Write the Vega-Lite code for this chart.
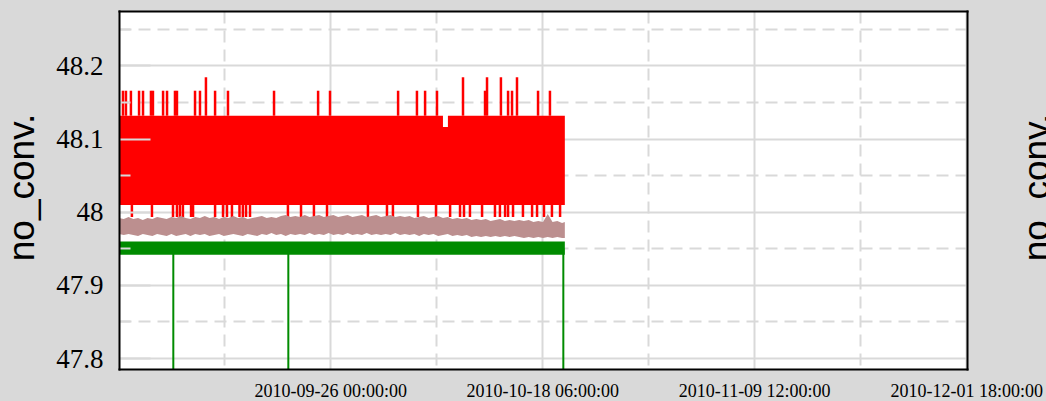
{
  "$schema": "https://vega.github.io/schema/vega-lite/v6.json",
  "autosize": {"type": "none"},
  "width": 848,
  "height": 358,
  "padding": {"left": 119, "top": 11, "right": 79, "bottom": 32},
  "background": "#d9d9d9",
  "config": {"view": {"fill": "white", "stroke": null}},
  "datasets": {
    "band": [
      {"t": "2010-09-03T20:00", "lo": 48.0092, "hi": 48.1313},
      {"t": "2010-10-07T20:00", "lo": 48.0092, "hi": 48.1159},
      {"t": "2010-10-08T08:30", "lo": 48.0092, "hi": 48.1313},
      {"t": "2010-10-20T15:00", "lo": 48.0092, "hi": 48.1313}
    ],
    "spikes": [
      {"t": "2010-09-04T06:00", "lo": 48.1313, "hi": 48.1655},
      {"t": "2010-09-04T13:30", "lo": 48.1313, "hi": 48.1655},
      {"t": "2010-09-05T02:00", "lo": 48.1313, "hi": 48.1655},
      {"t": "2010-09-05T22:30", "lo": 48.1313, "hi": 48.1655},
      {"t": "2010-09-06T08:30", "lo": 48.1313, "hi": 48.1655},
      {"t": "2010-09-07T04:30", "lo": 48.1313, "hi": 48.1655},
      {"t": "2010-09-07T09:30", "lo": 48.1313, "hi": 48.1655},
      {"t": "2010-09-08T11:00", "lo": 48.1313, "hi": 48.1655},
      {"t": "2010-09-08T21:00", "lo": 48.1313, "hi": 48.1655},
      {"t": "2010-09-09T17:00", "lo": 48.1313, "hi": 48.1655},
      {"t": "2010-09-09T22:00", "lo": 48.1313, "hi": 48.1655},
      {"t": "2010-09-11T19:30", "lo": 48.1313, "hi": 48.1655},
      {"t": "2010-09-12T08:00", "lo": 48.1313, "hi": 48.1655},
      {"t": "2010-09-12T23:00", "lo": 48.1313, "hi": 48.1839},
      {"t": "2010-09-13T22:00", "lo": 48.1313, "hi": 48.1655},
      {"t": "2010-09-15T06:30", "lo": 48.1313, "hi": 48.1655},
      {"t": "2010-09-20T02:30", "lo": 48.1313, "hi": 48.1655},
      {"t": "2010-09-24T17:30", "lo": 48.1313, "hi": 48.1655},
      {"t": "2010-09-25T23:30", "lo": 48.1313, "hi": 48.1655},
      {"t": "2010-10-03T03:00", "lo": 48.1313, "hi": 48.1655},
      {"t": "2010-10-05T02:30", "lo": 48.1313, "hi": 48.1655},
      {"t": "2010-10-05T23:00", "lo": 48.1313, "hi": 48.1655},
      {"t": "2010-10-07T05:00", "lo": 48.1313, "hi": 48.1655},
      {"t": "2010-10-09T22:30", "lo": 48.1313, "hi": 48.1839},
      {"t": "2010-10-12T06:00", "lo": 48.1313, "hi": 48.1655},
      {"t": "2010-10-12T11:00", "lo": 48.1313, "hi": 48.1839},
      {"t": "2010-10-13T22:00", "lo": 48.1313, "hi": 48.1839},
      {"t": "2010-10-14T16:00", "lo": 48.1313, "hi": 48.1655},
      {"t": "2010-10-15T02:00", "lo": 48.1313, "hi": 48.1655},
      {"t": "2010-10-15T14:30", "lo": 48.1313, "hi": 48.1839},
      {"t": "2010-10-17T19:30", "lo": 48.1313, "hi": 48.1655},
      {"t": "2010-10-19T01:30", "lo": 48.1313, "hi": 48.1655},
      {"t": "2010-09-05T04:30", "lo": 47.9928, "hi": 48.0092},
      {"t": "2010-09-07T07:00", "lo": 47.9928, "hi": 48.0092},
      {"t": "2010-09-09T12:00", "lo": 47.9928, "hi": 48.0092},
      {"t": "2010-09-09T22:00", "lo": 47.9928, "hi": 48.0092},
      {"t": "2010-09-10T05:30", "lo": 47.9928, "hi": 48.0092},
      {"t": "2010-09-10T13:00", "lo": 47.9928, "hi": 48.0092},
      {"t": "2010-09-11T09:30", "lo": 47.9928, "hi": 48.0092},
      {"t": "2010-09-11T14:30", "lo": 47.9928, "hi": 48.0092},
      {"t": "2010-09-13T22:00", "lo": 47.9928, "hi": 48.0092},
      {"t": "2010-09-14T18:00", "lo": 47.9928, "hi": 48.0092},
      {"t": "2010-09-15T04:00", "lo": 47.9928, "hi": 48.0092},
      {"t": "2010-09-15T16:30", "lo": 47.9928, "hi": 48.0092},
      {"t": "2010-09-16T11:30", "lo": 47.9928, "hi": 48.0092},
      {"t": "2010-09-16T20:00", "lo": 47.9928, "hi": 48.0092},
      {"t": "2010-09-17T04:00", "lo": 47.9928, "hi": 48.0092},
      {"t": "2010-09-17T14:00", "lo": 47.9928, "hi": 48.0092},
      {"t": "2010-09-21T13:30", "lo": 47.9928, "hi": 48.0092},
      {"t": "2010-09-22T22:30", "lo": 47.9928, "hi": 48.0092},
      {"t": "2010-09-24T07:00", "lo": 47.9928, "hi": 48.0092},
      {"t": "2010-09-25T16:00", "lo": 47.9928, "hi": 48.0092},
      {"t": "2010-09-29T23:00", "lo": 47.9928, "hi": 48.0092},
      {"t": "2010-10-01T23:00", "lo": 47.9928, "hi": 48.0092},
      {"t": "2010-10-02T14:00", "lo": 47.9928, "hi": 48.0092},
      {"t": "2010-10-05T05:00", "lo": 47.9928, "hi": 48.0092},
      {"t": "2010-10-07T02:30", "lo": 47.9928, "hi": 48.0092},
      {"t": "2010-10-08T14:00", "lo": 47.9928, "hi": 48.0092},
      {"t": "2010-10-09T15:00", "lo": 47.9928, "hi": 48.0092},
      {"t": "2010-10-10T01:00", "lo": 47.9928, "hi": 48.0092},
      {"t": "2010-10-10T16:00", "lo": 47.9928, "hi": 48.0092},
      {"t": "2010-10-11T22:30", "lo": 47.9928, "hi": 48.0092},
      {"t": "2010-10-13T07:00", "lo": 47.9928, "hi": 48.0092},
      {"t": "2010-10-13T19:30", "lo": 47.9928, "hi": 48.0092},
      {"t": "2010-10-14T08:30", "lo": 47.9928, "hi": 48.0092},
      {"t": "2010-10-14T16:00", "lo": 47.9928, "hi": 48.0092},
      {"t": "2010-10-15T04:30", "lo": 47.9928, "hi": 48.0092},
      {"t": "2010-10-16T05:30", "lo": 47.9928, "hi": 48.0092},
      {"t": "2010-10-17T04:30", "lo": 47.9928, "hi": 48.0092},
      {"t": "2010-10-17T17:00", "lo": 47.9928, "hi": 48.0092},
      {"t": "2010-10-18T10:30", "lo": 47.9928, "hi": 48.0092},
      {"t": "2010-10-19T06:30", "lo": 47.9928, "hi": 48.0092},
      {"t": "2010-10-20T03:00", "lo": 47.9928, "hi": 48.0092}
    ],
    "brown": [
      {"t": "2010-09-03T20:00", "hi": 47.9915, "lo": 47.9696},
      {"t": "2010-09-04T08:00", "hi": 47.9901, "lo": 47.9682},
      {"t": "2010-09-04T20:00", "hi": 47.9928, "lo": 47.9696},
      {"t": "2010-09-05T08:00", "hi": 47.9901, "lo": 47.9682},
      {"t": "2010-09-05T20:00", "hi": 47.9915, "lo": 47.9668},
      {"t": "2010-09-06T08:00", "hi": 47.9887, "lo": 47.9696},
      {"t": "2010-09-06T20:00", "hi": 47.9915, "lo": 47.9682},
      {"t": "2010-09-07T08:00", "hi": 47.9901, "lo": 47.9668},
      {"t": "2010-09-07T20:00", "hi": 47.9928, "lo": 47.9696},
      {"t": "2010-09-08T08:00", "hi": 47.9915, "lo": 47.9682},
      {"t": "2010-09-08T20:00", "hi": 47.9901, "lo": 47.9668},
      {"t": "2010-09-09T08:00", "hi": 47.9928, "lo": 47.9696},
      {"t": "2010-09-09T20:00", "hi": 47.9915, "lo": 47.9668},
      {"t": "2010-09-10T08:00", "hi": 47.9942, "lo": 47.9682},
      {"t": "2010-09-10T20:00", "hi": 47.9915, "lo": 47.9696},
      {"t": "2010-09-11T08:00", "hi": 47.9901, "lo": 47.9668},
      {"t": "2010-09-11T20:00", "hi": 47.9928, "lo": 47.9696},
      {"t": "2010-09-12T08:00", "hi": 47.9915, "lo": 47.9682},
      {"t": "2010-09-12T20:00", "hi": 47.9942, "lo": 47.9696},
      {"t": "2010-09-13T08:00", "hi": 47.9915, "lo": 47.9668},
      {"t": "2010-09-13T20:00", "hi": 47.9928, "lo": 47.9682},
      {"t": "2010-09-14T08:00", "hi": 47.9901, "lo": 47.9696},
      {"t": "2010-09-14T20:00", "hi": 47.9928, "lo": 47.9668},
      {"t": "2010-09-15T08:00", "hi": 47.9915, "lo": 47.9682},
      {"t": "2010-09-15T20:00", "hi": 47.9942, "lo": 47.9696},
      {"t": "2010-09-16T08:00", "hi": 47.9915, "lo": 47.9682},
      {"t": "2010-09-16T20:00", "hi": 47.9928, "lo": 47.9668},
      {"t": "2010-09-17T08:00", "hi": 47.9901, "lo": 47.9696},
      {"t": "2010-09-17T20:00", "hi": 47.9915, "lo": 47.9682},
      {"t": "2010-09-18T08:00", "hi": 47.9928, "lo": 47.9668},
      {"t": "2010-09-18T20:00", "hi": 47.9942, "lo": 47.9696},
      {"t": "2010-09-19T08:00", "hi": 47.9915, "lo": 47.9682},
      {"t": "2010-09-19T20:00", "hi": 47.9928, "lo": 47.9709},
      {"t": "2010-09-20T08:00", "hi": 47.9915, "lo": 47.9682},
      {"t": "2010-09-20T20:00", "hi": 47.9942, "lo": 47.9696},
      {"t": "2010-09-21T08:00", "hi": 47.9956, "lo": 47.9668},
      {"t": "2010-09-21T20:00", "hi": 47.9928, "lo": 47.9696},
      {"t": "2010-09-22T08:00", "hi": 47.9942, "lo": 47.9682},
      {"t": "2010-09-22T20:00", "hi": 47.9928, "lo": 47.9696},
      {"t": "2010-09-23T08:00", "hi": 47.9956, "lo": 47.9682},
      {"t": "2010-09-23T20:00", "hi": 47.9928, "lo": 47.9709},
      {"t": "2010-09-24T08:00", "hi": 47.9942, "lo": 47.9682},
      {"t": "2010-09-24T20:00", "hi": 47.9956, "lo": 47.9696},
      {"t": "2010-09-25T08:00", "hi": 47.9928, "lo": 47.9682},
      {"t": "2010-09-25T20:00", "hi": 47.9942, "lo": 47.9709},
      {"t": "2010-09-26T08:00", "hi": 47.9956, "lo": 47.9682},
      {"t": "2010-09-26T20:00", "hi": 47.9928, "lo": 47.9696},
      {"t": "2010-09-27T08:00", "hi": 47.9942, "lo": 47.9682},
      {"t": "2010-09-27T20:00", "hi": 47.9956, "lo": 47.9709},
      {"t": "2010-09-28T08:00", "hi": 47.9928, "lo": 47.9682},
      {"t": "2010-09-28T20:00", "hi": 47.9942, "lo": 47.9696},
      {"t": "2010-09-29T08:00", "hi": 47.9956, "lo": 47.9682},
      {"t": "2010-09-29T20:00", "hi": 47.9928, "lo": 47.9709},
      {"t": "2010-09-30T08:00", "hi": 47.9942, "lo": 47.9682},
      {"t": "2010-09-30T20:00", "hi": 47.9956, "lo": 47.9696},
      {"t": "2010-10-01T08:00", "hi": 47.9928, "lo": 47.9682},
      {"t": "2010-10-01T20:00", "hi": 47.9942, "lo": 47.9696},
      {"t": "2010-10-02T08:00", "hi": 47.9956, "lo": 47.9682},
      {"t": "2010-10-02T20:00", "hi": 47.9928, "lo": 47.9709},
      {"t": "2010-10-03T08:00", "hi": 47.9942, "lo": 47.9682},
      {"t": "2010-10-03T20:00", "hi": 47.9928, "lo": 47.9696},
      {"t": "2010-10-04T08:00", "hi": 47.9942, "lo": 47.9682},
      {"t": "2010-10-04T20:00", "hi": 47.9915, "lo": 47.9696},
      {"t": "2010-10-05T08:00", "hi": 47.9928, "lo": 47.9668},
      {"t": "2010-10-05T20:00", "hi": 47.9942, "lo": 47.9696},
      {"t": "2010-10-06T08:00", "hi": 47.9915, "lo": 47.9682},
      {"t": "2010-10-06T20:00", "hi": 47.9928, "lo": 47.9696},
      {"t": "2010-10-07T08:00", "hi": 47.9942, "lo": 47.9668},
      {"t": "2010-10-07T20:00", "hi": 47.9915, "lo": 47.9682},
      {"t": "2010-10-08T08:00", "hi": 47.9928, "lo": 47.9696},
      {"t": "2010-10-08T20:00", "hi": 47.9901, "lo": 47.9668},
      {"t": "2010-10-09T08:00", "hi": 47.9915, "lo": 47.9682},
      {"t": "2010-10-09T20:00", "hi": 47.9901, "lo": 47.9668},
      {"t": "2010-10-10T08:00", "hi": 47.9915, "lo": 47.9682},
      {"t": "2010-10-10T20:00", "hi": 47.9887, "lo": 47.9654},
      {"t": "2010-10-11T08:00", "hi": 47.9901, "lo": 47.9668},
      {"t": "2010-10-11T20:00", "hi": 47.9887, "lo": 47.9654},
      {"t": "2010-10-12T08:00", "hi": 47.9901, "lo": 47.9668},
      {"t": "2010-10-12T20:00", "hi": 47.9873, "lo": 47.9654},
      {"t": "2010-10-13T08:00", "hi": 47.9887, "lo": 47.9668},
      {"t": "2010-10-13T20:00", "hi": 47.9901, "lo": 47.9654},
      {"t": "2010-10-14T08:00", "hi": 47.9873, "lo": 47.9668},
      {"t": "2010-10-14T20:00", "hi": 47.9887, "lo": 47.9654},
      {"t": "2010-10-15T08:00", "hi": 47.9873, "lo": 47.9668},
      {"t": "2010-10-15T20:00", "hi": 47.9887, "lo": 47.9654},
      {"t": "2010-10-16T08:00", "hi": 47.9873, "lo": 47.9641},
      {"t": "2010-10-16T20:00", "hi": 47.9887, "lo": 47.9654},
      {"t": "2010-10-17T08:00", "hi": 47.9860, "lo": 47.9641},
      {"t": "2010-10-17T20:00", "hi": 47.9873, "lo": 47.9654},
      {"t": "2010-10-18T08:00", "hi": 47.9860, "lo": 47.9641},
      {"t": "2010-10-18T20:00", "hi": 47.9969, "lo": 47.9654},
      {"t": "2010-10-19T08:00", "hi": 47.9860, "lo": 47.9641},
      {"t": "2010-10-19T20:00", "hi": 47.9873, "lo": 47.9654},
      {"t": "2010-10-20T08:00", "hi": 47.9846, "lo": 47.9641},
      {"t": "2010-10-20T15:00", "hi": 47.9860, "lo": 47.9641}
    ],
    "green": [
      {"t": "2010-09-03T20:00", "lo": 47.9411, "hi": 47.9595},
      {"t": "2010-10-20T15:00", "lo": 47.9411, "hi": 47.9595}
    ],
    "dips": [
      {"t": "2010-09-09T12:48", "lo": 47.70, "hi": 47.95},
      {"t": "2010-09-21T14:30", "lo": 47.70, "hi": 47.95},
      {"t": "2010-10-20T11:12", "lo": 47.70, "hi": 47.95}
    ]
  },
  "resolve": {"axis": {"x": "independent", "y": "independent"}},
  "layer": [
    {
      "data": {"name": "band"},
      "mark": {"type": "area", "color": "#ff0000", "interpolate": "step-after", "clip": true},
      "encoding": {
        "x": {
          "field": "t", "type": "temporal",
          "scale": {"domain": [{"year": 2010, "month": 9, "date": 3, "hours": 20}, {"year": 2010, "month": 12, "date": 1, "hours": 20}], "nice": false},
          "axis": {
            "orient": "bottom",
            "values": [{"year": 2010, "month": 9, "date": 26, "hours": 0}, {"year": 2010, "month": 10, "date": 18, "hours": 6}, {"year": 2010, "month": 11, "date": 9, "hours": 12}, {"year": 2010, "month": 12, "date": 1, "hours": 18}],
            "format": "%Y-%m-%d %H:%M:%S",
            "labelFont": "Liberation Serif", "labelFontSize": 18, "labelColor": "#000000",
            "labelPadding": 13, "labelAngle": 0, "labelFlush": false, "labelOverlap": false, "labelBound": false,
            "ticks": false, "domain": false,
            "grid": true, "gridColor": "#d9d9d9", "gridWidth": 2,
            "title": null, "zindex": 0
          }
        },
        "y": {
          "field": "hi", "type": "quantitative",
          "scale": {"domain": [47.785, 48.2745], "nice": false, "zero": false},
          "axis": {
            "orient": "left",
            "values": [47.8, 47.9, 48, 48.1, 48.2],
            "format": "~g",
            "labelFont": "Liberation Serif", "labelFontSize": 27, "labelColor": "#000000", "labelPadding": 16, "labelOffset": 1,
            "ticks": false, "domain": false,
            "grid": true, "gridColor": "#d9d9d9", "gridWidth": 2,
            "title": "no_conv.", "titleFont": "Liberation Sans", "titleFontSize": 37, "titleFontWeight": "normal",
            "titleColor": "#000000", "titleAngle": 270, "titleX": -86, "titleY": 176,
            "titleAlign": "center", "titleBaseline": "alphabetic",
            "zindex": 0
          }
        },
        "y2": {"field": "lo"}
      }
    },
    {
      "data": {"name": "spikes"},
      "mark": {"type": "rule", "color": "#ff0000", "strokeWidth": 2.5, "clip": true},
      "encoding": {
        "x": {
          "field": "t", "type": "temporal",
          "axis": {
            "orient": "bottom",
            "values": [{"year": 2010, "month": 9, "date": 14, "hours": 21}, {"year": 2010, "month": 10, "date": 7, "hours": 3}, {"year": 2010, "month": 10, "date": 29, "hours": 9}, {"year": 2010, "month": 11, "date": 20, "hours": 15}],
            "labels": false, "ticks": false, "domain": false,
            "grid": true, "gridColor": "#d9d9d9", "gridWidth": 2, "gridDash": [12, 7],
            "title": null, "zindex": 0
          }
        },
        "y": {
          "field": "lo", "type": "quantitative",
          "axis": {
            "orient": "left",
            "values": [47.85, 47.95, 48.05, 48.15, 48.25],
            "labels": false, "ticks": false, "domain": false,
            "grid": true, "gridColor": "#d9d9d9", "gridWidth": 2, "gridDash": [12, 7],
            "title": null, "zindex": 0
          }
        },
        "y2": {"field": "hi"}
      }
    },
    {
      "data": {"name": "brown"},
      "mark": {"type": "area", "color": "#bc8f8f", "clip": true},
      "encoding": {
        "x": {
          "field": "t", "type": "temporal",
          "axis": {
            "orient": "top", "values": [], "labels": false, "ticks": false, "grid": false,
            "domain": true, "domainColor": "#000000", "domainWidth": 2, "domainCap": "square",
            "title": null, "zindex": 2
          }
        },
        "y": {
          "field": "hi", "type": "quantitative",
          "axis": {
            "orient": "left",
            "values": [47.8, 47.9, 48, 48.1, 48.2],
            "labels": false, "ticks": true, "tickSize": -31, "tickColor": "#d9d9d9", "tickWidth": 2,
            "domain": true, "domainColor": "#000000", "domainWidth": 2, "domainCap": "square",
            "grid": false, "title": null, "zindex": 2
          }
        },
        "y2": {"field": "lo"}
      }
    },
    {
      "data": {"name": "green"},
      "mark": {"type": "area", "color": "#008b00", "clip": true},
      "encoding": {
        "x": {
          "field": "t", "type": "temporal",
          "axis": {
            "orient": "bottom", "values": [], "labels": false, "ticks": false, "grid": false,
            "domain": true, "domainColor": "#000000", "domainWidth": 2, "domainCap": "square",
            "title": null, "zindex": 2
          }
        },
        "y": {
          "field": "hi", "type": "quantitative",
          "axis": {
            "orient": "left",
            "values": [47.85, 47.95, 48.05, 48.15, 48.25],
            "labels": false, "ticks": true, "tickSize": -11, "tickColor": "#d9d9d9", "tickWidth": 2,
            "domain": false, "grid": false, "title": null, "zindex": 1
          }
        },
        "y2": {"field": "lo"}
      }
    },
    {
      "data": {"name": "dips"},
      "mark": {"type": "rule", "color": "#008b00", "strokeWidth": 2, "clip": true},
      "encoding": {
        "x": {"field": "t", "type": "temporal", "axis": null},
        "y": {
          "field": "lo", "type": "quantitative",
          "axis": {
            "orient": "right", "values": [], "labels": false, "ticks": false, "grid": false,
            "domain": true, "domainColor": "#000000", "domainWidth": 2, "domainCap": "square",
            "title": "no_conv.", "titleFont": "Liberation Sans", "titleFontSize": 37, "titleFontWeight": "normal",
            "titleColor": "#000000", "titleAngle": 270, "titleX": 81, "titleY": 176,
            "titleAlign": "center", "titleBaseline": "alphabetic",
            "zindex": 2
          }
        },
        "y2": {"field": "hi"}
      }
    }
  ]
}
